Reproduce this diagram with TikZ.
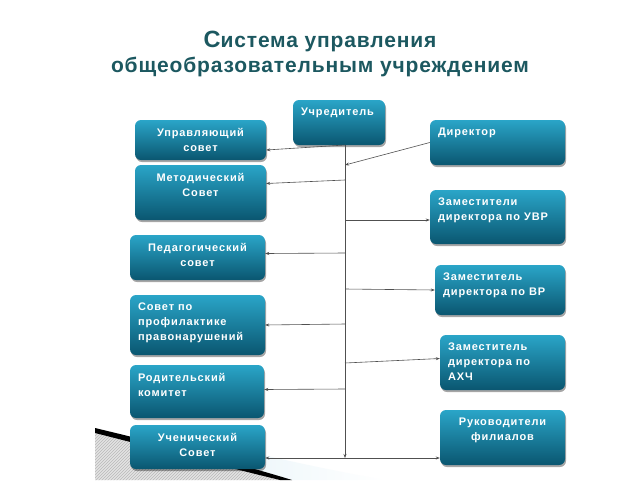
\documentclass[tikz,border=0pt]{standalone}
\usepackage{fontspec}
\setmainfont{Liberation Sans}
\newfontfamily\boxfont[LetterSpace=8]{Liberation Sans}
\newfontfamily\titlefont[LetterSpace=4]{Liberation Sans}
\usetikzlibrary{shadows,arrows.meta,patterns}
\definecolor{boxtop}{RGB}{42,165,200}
\definecolor{boxbot}{RGB}{10,86,112}
\definecolor{titlec}{RGB}{28,88,96}
\definecolor{linec}{RGB}{80,80,80}
\definecolor{swlight}{RGB}{225,241,247}
\tikzset{
  box/.style={rounded corners=6pt, top color=boxtop, bottom color=boxbot, draw=none, inner sep=0pt,
    drop shadow={shadow xshift=1pt, shadow yshift=-2pt, opacity=0.35, fill=black}},
  lbl/.style={text=white, font=\boxfont\bfseries\fontsize{11}{15}\selectfont, inner sep=0pt},
  conn/.style={draw=linec, line width=0.6pt},
  arr/.style={conn, -{Stealth[length=4pt,width=3pt]}},
  titlestyle/.style={text=titlec, font=\titlefont\bfseries\fontsize{21}{25}\selectfont, align=center, inner sep=0pt}
}
% left-aligned box: name, x1, y1, x2, y2, text
\newcommand\bxl[6]{\node[box, minimum width={#4-#2}, minimum height={#5-#3},
  label={[lbl, anchor=north west, align=left, xshift=8pt, yshift=-8pt]north west:{#6}}] (#1) at ({(#2+#4)/2},{(#3+#5)/2}) {};}
% centred box
\newcommand\bxc[6]{\node[box, minimum width={#4-#2}, minimum height={#5-#3},
  label={[lbl, anchor=north, align=center, yshift=-8pt]north:{#6}}] (#1) at ({(#2+#4)/2},{(#3+#5)/2}) {};}
\begin{document}
\begin{tikzpicture}[x=1pt,y=-1pt]
\useasboundingbox (0,0) rectangle (640,480);
\fill[white] (0,0) rectangle (640,480);
% decorative swoosh
\shade[left color=swlight, right color=white] (150,428) .. controls (220,445) and (300,465) .. (385,480) -- (292,480) .. controls (240,466) and (180,445) .. (150,436) -- cycle;
\fill[gray!22] (95,433) .. controls (170,452) and (230,468) .. (280,480) -- (95,480) -- cycle;
\fill[pattern=north east lines, pattern color=gray!55] (95,433) .. controls (170,452) and (230,468) .. (280,480) -- (95,480) -- cycle;
\fill[black] (95,428) .. controls (170,446) and (240,464) .. (292,480) -- (280,480) .. controls (230,468) and (170,452) .. (95,433) -- cycle;
% title
\node[titlestyle] (title) at (320,54) {{\fontsize{23.5}{25}\selectfont С}истема управления\\общеобразовательным учреждением};
% boxes
\bxl{ucr}{293}{100}{385}{145}{Учредитель}
\bxc{upr}{135}{120}{266}{160}{Управляющий\\совет}
\bxc{met}{135}{165}{266}{220}{Методический\\Совет}
\bxc{ped}{130}{235}{265}{280}{Педагогический\\совет}
\bxl{sov}{130}{295}{265}{355}{Совет по\\профилактике\\правонарушений}
\bxl{rod}{130}{365}{264}{418}{Родительский\\комитет}
\bxc{uch}{130}{425}{265}{469}{Ученический\\Совет}
\bxl{dir}{430}{120}{565}{165}{Директор}
\bxl{uvr}{430}{190}{565}{244}{Заместители\\директора по УВР}
\bxl{vr}{435}{265}{565}{315}{Заместитель\\директора по ВР}
\bxl{ahc}{440}{335}{565}{390}{Заместитель\\директора по\\АХЧ}
\bxc{ruk}{440}{410}{565}{465}{Руководители\\филиалов}
% trunk
\coordinate (t0) at (345,145);
\coordinate (t1) at (345,165);
\coordinate (t2) at (345,180);
\coordinate (t3) at (345,220);
\coordinate (t4) at (345,253);
\coordinate (t5) at (345,289);
\coordinate (t6) at (345,324);
\coordinate (t7) at (345,363);
\coordinate (t8) at (345,389);
\coordinate (tE) at (345,458);
\draw[arr] (t0) -- (tE);
\draw[arr] (t0) -- ([yshift=-10pt]upr.east);
\draw[arr] (t2) -- ([yshift=9pt]met.east);
\draw[arr] (dir.west) -- (t1);
\draw[arr] (t3) -- ([yshift=-3pt]uvr.west);
\draw[arr] (t4) -- ([yshift=4pt]ped.east);
\draw[arr] (t5) -- (vr.west);
\draw[arr] (t6) -- (sov.east);
\draw[arr] (t7) -- ([yshift=4pt]ahc.west);
\draw[arr] (t8) -- ([yshift=2pt]rod.east);
\draw[arr] (tE) -- (uch.east |- tE);
\draw[arr] (tE) -- (ruk.west |- tE);
\end{tikzpicture}
\end{document}
